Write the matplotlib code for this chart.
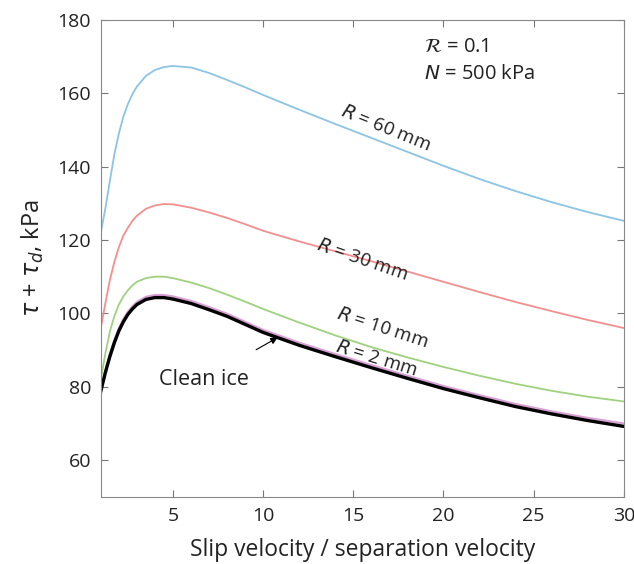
import numpy as np
import matplotlib.pyplot as plt

plt.rcParams['font.family'] = ['Open Sans', 'DejaVu Sans']
plt.rcParams['mathtext.fontset'] = 'dejavusans'

# values
x_pts = [1, 1.25, 1.5, 1.75, 2, 2.25, 2.5, 2.75, 3, 3.5, 4, 4.5, 5, 6, 7, 8, 9, 10,
         12, 14, 16, 18, 20, 22, 24, 26, 28, 30]
r60 = [122, 128.5, 136, 143.3, 149, 153.6, 157, 159.7, 161.8, 164.7, 166.3, 167.1, 167.4,
       167, 165.5, 163.6, 161.6, 159.5, 155.5, 151.6, 147.8, 144, 140.2, 136.6, 133.3,
       130.3, 127.6, 125.2]
r30 = [96, 102.7, 109, 114, 118, 121.2, 123.3, 125.2, 126.6, 128.5, 129.4, 129.8, 129.7,
       128.8, 127.5, 126, 124.3, 122.5, 119.6, 116.9, 114.2, 111.4, 108.6, 105.8, 103.1,
       100.6, 98.2, 96]
r10 = [82, 89, 95, 99.2, 102.4, 104.6, 106.3, 107.6, 108.6, 109.6, 110, 110, 109.6,
       108.4, 106.9, 105.1, 103.2, 101.2, 97.5, 94, 90.8, 88, 85.4, 83, 80.8, 78.9,
       77.3, 76]
r2 = [79.4, 84.5, 88.9, 92.7, 95.9, 98.4, 100.4, 101.9, 103.1, 104.5, 105, 105, 104.6,
      103.4, 101.7, 99.9, 97.7, 95.5, 92, 88.9, 85.9, 83, 80.2, 77.7, 75.3, 73.3, 71.5, 70]
clean = [78.8, 83.8, 88.2, 92, 95.2, 97.7, 99.7, 101.2, 102.4, 103.8, 104.3, 104.3, 103.9,
         102.7, 101, 99.2, 97, 94.8, 91.3, 88.2, 85.2, 82.3, 79.5, 77, 74.6, 72.6, 70.8, 69.2]

fig = plt.figure(figsize=(6.34, 5.64), dpi=100)
ax = fig.add_axes([0.159, 0.119, 0.825, 0.846])

ax.plot(x_pts, r60, color='#8cc4e4', lw=1.3)
ax.plot(x_pts, r30, color='#f58f8f', lw=1.3)
ax.plot(x_pts, r10, color='#9fd17f', lw=1.3)
ax.plot(x_pts, r2, color='#d9a0d6', lw=1.6)
ax.plot(x_pts, clean, color='black', lw=2.4)

ax.set_xlim(1, 30)
ax.set_ylim(50, 180)
ax.set_xticks([5, 10, 15, 20, 25, 30])
ax.set_yticks([60, 80, 100, 120, 140, 160, 180])
ax.tick_params(direction='in', top=True, right=True, length=5, labelsize=14,
               color='#777777', labelcolor='#222222', pad=7)
for s in ax.spines.values():
    s.set_color('#888888')

ax.set_xlabel('Slip velocity / separation velocity', fontsize=16.5, color='#222222', labelpad=10)
ax.set_ylabel(r'$\tau$ + $\tau_d$, kPa', fontsize=17, color='#222222', labelpad=8)

lab = dict(fontsize=13.5, color='#222222', ha='center', va='center')
ax.text(16.8, 150.5, r'$R$ = 60 mm', rotation=-22, **lab)
ax.text(15.5, 114.5, r'$R$ = 30 mm', rotation=-19, **lab)
ax.text(16.6, 96, r'$R$ = 10 mm', rotation=-18, **lab)
ax.text(16.3, 87.6, r'$R$ = 2 mm', rotation=-17, **lab)

ax.text(18.9, 172.5, r'$\mathcal{R}$ = 0.1', fontsize=14.5, color='#222222', va='center')
ax.text(18.9, 165.3, r'$N$ = 500 kPa', fontsize=14.5, color='#222222', va='center')

ax.annotate('Clean ice', xy=(10.8, 93.4), xytext=(6.7, 82), fontsize=15.5, color='#222222',
            ha='center', va='center',
            arrowprops=dict(arrowstyle='-|>', color='black', lw=0.8, shrinkA=24, shrinkB=0,
                            mutation_scale=10))

fig.savefig('out.png', dpi=100)
